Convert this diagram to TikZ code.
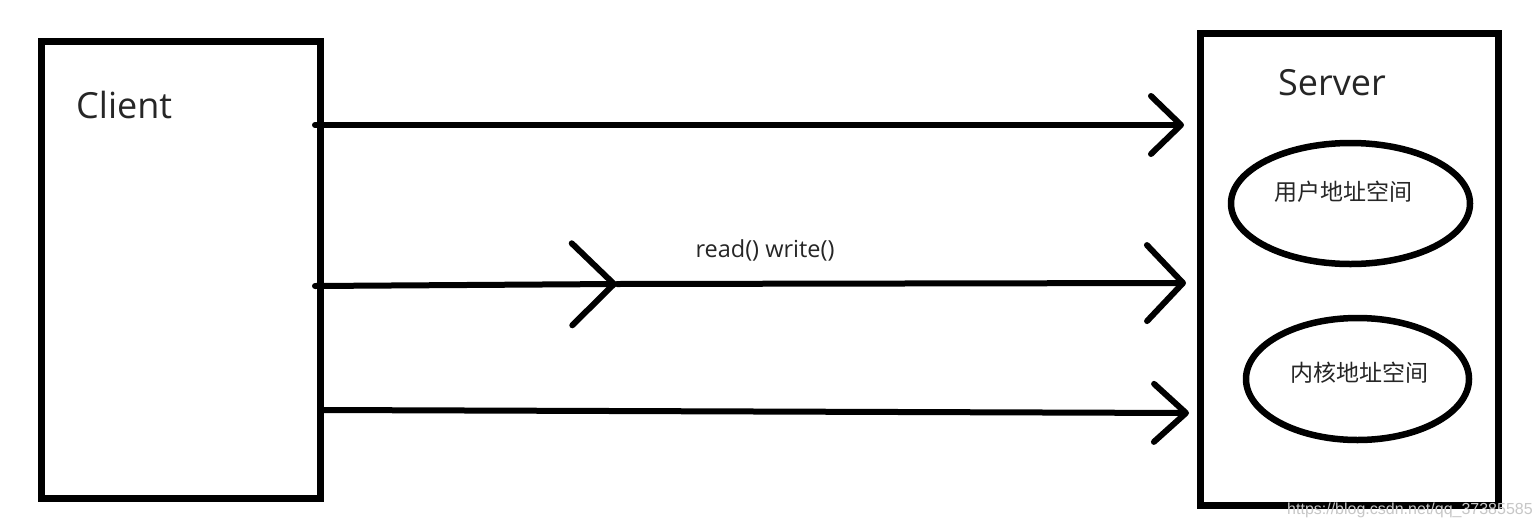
\documentclass[tikz,border=0pt]{standalone}
\usepackage{fontspec}
\setmainfont{Open Sans}
\newfontfamily\cjk{Noto Sans CJK SC}
\newfontfamily\wmfont{Liberation Sans}
\usetikzlibrary{arrows.meta,shapes.geometric}
\begin{document}
\begin{tikzpicture}[x=1pt,y=-1pt,
  boxst/.style={draw=black,line width=7pt,minimum width=#1,inner sep=0pt},
  ovalst/.style={ellipse,draw=black,line width=6.5pt,inner sep=0pt},
  arr/.style={line width=6pt,line cap=round,-{Straight Barb[length=34pt,width=66pt,round]}},
  lbl/.style={inner sep=0pt,text=black!85}
]
\useasboundingbox[fill=white] (0,0) rectangle (1540,528);
% boxes
\node[boxst=279pt,minimum height=457pt] (client) at (180.5,269.5) {};
\node[boxst=298pt,minimum height=472pt] (server) at (1349,269) {};
\node[lbl,anchor=base west,font=\fontsize{36}{40}\selectfont] (clientt) at (76,118) {Client};
\node[lbl,anchor=base west,font=\fontsize{36}{40}\selectfont] (servert) at (1278,95) {Server};
% ellipses
\node[ovalst,minimum width=239pt,minimum height=121pt] (user) at (1350.5,203.5) {};
\node[ovalst,minimum width=223pt,minimum height=122pt] (kern) at (1357.5,379) {};
\node[lbl,font=\cjk\fontsize{23}{26}\selectfont] (usert) at (1343,192) {用户地址空间};
\node[lbl,font=\cjk\fontsize{23}{26}\selectfont] (kernt) at (1359,373) {内核地址空间};
% connector endpoints
\coordinate (a1s) at (315,125);
\coordinate (a1e) at (1184,125);
\coordinate (a2s) at (315,286);
\coordinate (a2m) at (617,284);
\coordinate (a2e) at (1186,283);
\coordinate (a3s) at (322,410);
\coordinate (a3e) at (1189,413);
\draw[arr,-{Straight Barb[length=30pt,width=58pt,round]}] (a1s) -- (a1e);
\draw[arr,-{Straight Barb[length=42pt,width=82pt,round]}] (a2s) -- (a2m);
\draw[arr,-{Straight Barb[length=36pt,width=76pt,round]}] (a2m) -- (a2e);
\draw[arr,-{Straight Barb[length=32pt,width=58pt,round]}] (a3s) -- (a3e);
\node[lbl,font=\fontsize{23.5}{26}\selectfont] (rw) at (765,250) {read() write()};
% watermark
\node[inner sep=0pt,anchor=west,text=black!22,font=\wmfont\fontsize{16}{18}\selectfont] (wm) at (1287,510) {https://blog.csdn.net/qq\_37385585};
\end{tikzpicture}
\end{document}
